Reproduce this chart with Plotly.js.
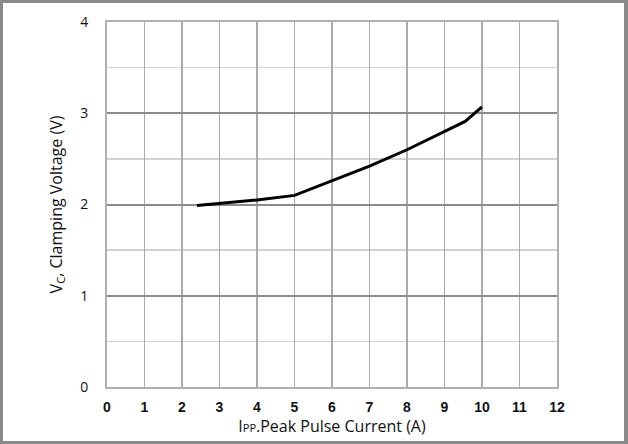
<!DOCTYPE html>
<html>
<head>
<meta charset="utf-8">
<script src="https://cdn.plot.ly/plotly-3.0.1.min.js"></script>
<style>
  html, body { margin: 0; padding: 0; background: #ffffff; }
  #wrap { position: relative; width: 628px; height: 444px; }
  #chart { position: absolute; left: 0; top: 0; width: 628px; height: 444px; }
  #frame { position: absolute; left: 0; top: 0; width: 628px; height: 444px;
           box-sizing: border-box; border: 3px solid #8a8a8a; border-right-width: 4px;
           pointer-events: none; }
</style>
</head>
<body>
<div id="wrap">
  <div id="chart"></div>
  <div id="frame"></div>
</div>
<script>
// Peak pulse current (A)
const currentA = [2.4, 3.0, 4.0, 5.0, 6.0, 7.0, 8.0, 9.0, 9.55, 10.0];
// Clamping voltage (V)
const clampV   = [1.99, 2.01, 2.05, 2.10, 2.26, 2.42, 2.60, 2.80, 2.91, 3.07];

const xTicks = [0,1,2,3,4,5,6,7,8,9,10,11,12];
const yTicks = [0,1,2,3,4];

const trace = {
  x: currentA,
  y: clampV,
  type: 'scatter',
  mode: 'lines',
  line: { color: '#000000', width: 3 },
  hoverinfo: 'skip'
};

const layout = {
  width: 628,
  height: 444,
  margin: { l: 107, r: 71, t: 22, b: 57 },
  paper_bgcolor: '#ffffff',
  plot_bgcolor: '#ffffff',
  showlegend: false,
  xaxis: {
    range: [0, 12],
    tickvals: xTicks,
    ticktext: xTicks.map(String),
    showgrid: true,
    gridcolor: '#ababab',
    gridwidth: 1.5,
    zeroline: false,
    showline: true,
    mirror: true,
    linecolor: '#b0b0b0',
    linewidth: 2,
    ticks: 'outside',
    ticklen: 6,
    tickcolor: 'rgba(0,0,0,0)',
    tickfont: { family: 'Liberation Sans, Arial, sans-serif', size: 14, color: '#111', weight: 'bold' },
    title: {
      text: 'I<span style="font-size:11px">PP</span>.Peak Pulse Current (A)',
      font: { family: 'Open Sans, Noto Sans, sans-serif', size: 16, color: '#111' },
      standoff: 7
    }
  },
  yaxis: {
    range: [0, 4],
    tickvals: yTicks,
    ticktext: yTicks.map(String),
    showgrid: true,
    gridcolor: '#8c8c8c',
    gridwidth: 2,
    zeroline: false,
    showline: true,
    mirror: true,
    linecolor: '#b0b0b0',
    linewidth: 2,
    ticks: 'outside',
    ticklen: 14,
    tickcolor: 'rgba(0,0,0,0)',
    tickfont: { family: 'Open Sans, Noto Sans, sans-serif', size: 14, color: '#111' },
    minor: { dtick: 0.5, showgrid: true, gridcolor: '#d2d2d2', gridwidth: 1.5 },
    title: {
      text: 'V<sub>C</sub>, Clamping Voltage (V)',
      font: { family: 'Open Sans, Noto Sans, sans-serif', size: 16, color: '#111' },
      standoff: 14
    }
  }
};

Plotly.newPlot('chart', [trace], layout, { displayModeBar: false, staticPlot: true });
</script>
</body>
</html>
